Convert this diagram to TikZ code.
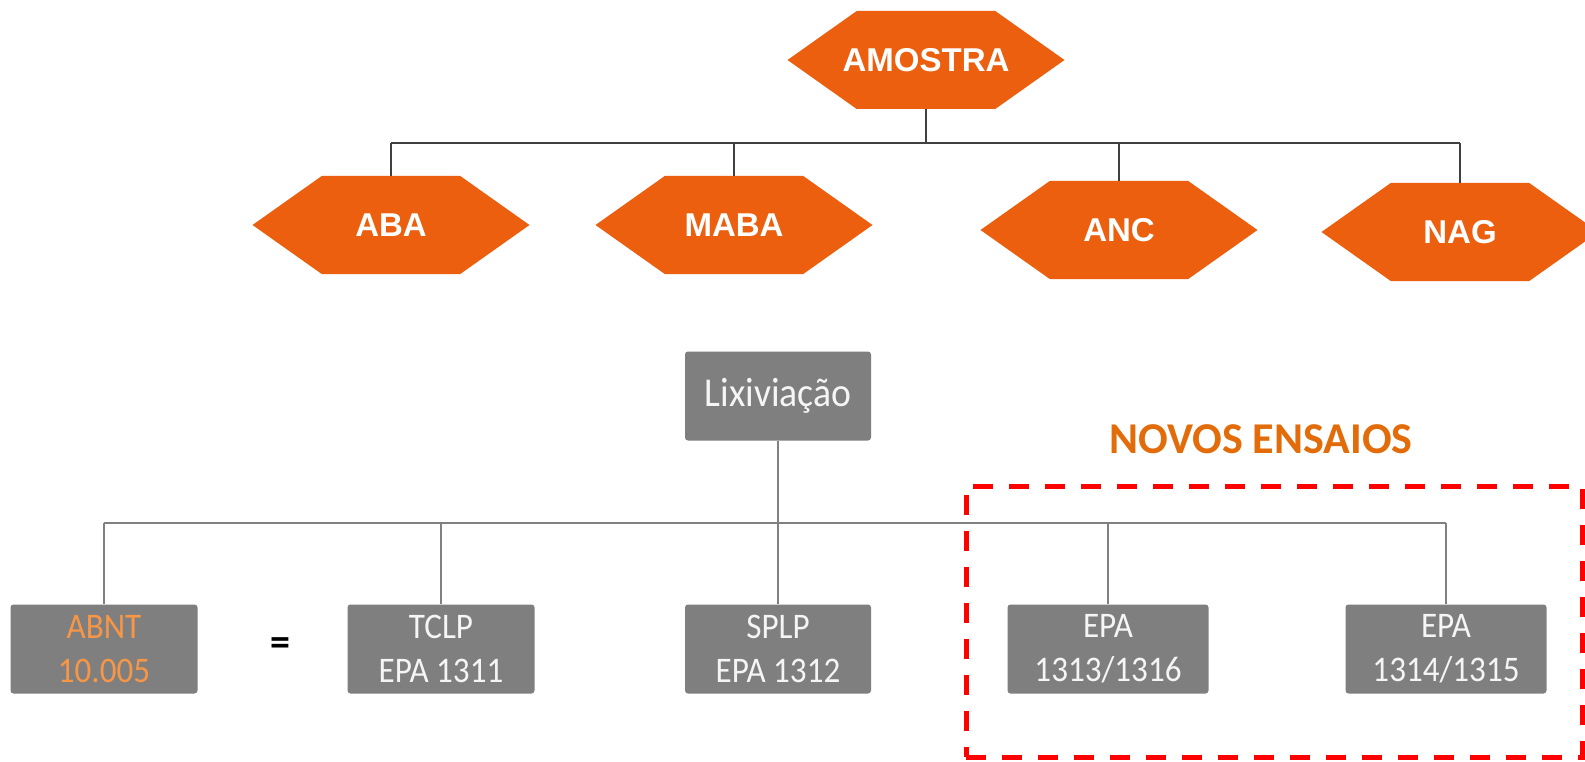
\documentclass[tikz,border=0pt]{standalone}
\usepackage{fontspec}
\setmainfont{Carlito}
\newfontfamily\boxfont{Carlito}[FakeStretch=0.92]
\newfontfamily\hexfont{Liberation Sans}
\usetikzlibrary{calc}

\definecolor{hexorange}{RGB}{236,95,14}
\definecolor{boxgray}{RGB}{127,127,127}
\definecolor{boxtext}{RGB}{245,245,245}
\definecolor{abntorange}{RGB}{247,150,70}
\definecolor{titleorange}{RGB}{227,108,10}
\definecolor{treeline}{RGB}{64,64,64}
\definecolor{busline}{RGB}{128,128,128}

\tikzset{
  hexnode/.style={minimum width=277pt, minimum height=98pt, inner sep=0pt,
    font=\hexfont\bfseries\fontsize{33}{38}\selectfont, text=white,
    path picture={
      \fill[hexorange] (path picture bounding box.west)
        -- ($(path picture bounding box.north west)!0.25!(path picture bounding box.north east)$)
        -- ($(path picture bounding box.north west)!0.75!(path picture bounding box.north east)$)
        -- (path picture bounding box.east)
        -- ($(path picture bounding box.south west)!0.75!(path picture bounding box.south east)$)
        -- ($(path picture bounding box.south west)!0.25!(path picture bounding box.south east)$)
        -- cycle;}},
  graybox/.style={fill=boxgray, rounded corners=3pt, minimum height=89pt,
    inner sep=0pt, text=boxtext, align=center,
    font=\boxfont\fontsize{36}{44}\selectfont},
  treelink/.style={draw=treeline, line width=2pt},
  buslink/.style={draw=busline, line width=1.8pt},
  newframe/.style={draw=red, line width=5pt, dash pattern=on 20pt off 16pt,
    minimum width=616pt, minimum height=271pt, inner sep=0pt},
}

\begin{document}
\begin{tikzpicture}[x=1pt,y=-1pt]
  \useasboundingbox (0,0) rectangle (1585,762);
  \fill[white] (0,0) rectangle (1585,762);
  \clip (0,0) rectangle (1585,762);

  % sample classification tree
  \node[hexnode] (amostra) at (926,60)  {AMOSTRA};
  \node[hexnode] (aba)     at (391,225) {ABA};
  \node[hexnode] (maba)    at (734,225) {MABA};
  \node[hexnode] (anc)     at (1119,230) {ANC};
  \node[hexnode] (nag)     at (1460,232) {NAG};

  \coordinate (tb) at (0,143);
  \draw[treelink] (amostra.south) -- (amostra.south |- tb);
  \draw[treelink] (aba.north |- tb) -- (nag.north |- tb);
  \foreach \n in {aba,maba,anc,nag}
    \draw[treelink] (\n.north |- tb) -- (\n.north);

  % leaching tests
  \node[graybox, minimum width=186pt, font=\boxfont\fontsize{41}{48}\selectfont] (lix) at (778,396) {Lixiviação};
  \node[graybox, minimum width=187pt, text=abntorange] (abnt) at (104,649) {ABNT\\10.005};
  \node[graybox, minimum width=187pt] (tclp) at (441,649) {TCLP\\EPA 1311};
  \node[graybox, minimum width=186pt] (splp) at (778,649) {SPLP\\EPA 1312};
  \node[graybox, minimum width=201pt] (epaa) at (1108,649) {EPA\\1313/1316};
  \node[graybox, minimum width=201pt] (epab) at (1446,649) {EPA\\1314/1315};

  \node[font=\bfseries\fontsize{40}{46}\selectfont] (eq) at (280,647) {=};

  \coordinate (lb) at (0,523);
  \draw[buslink] (lix.south) -- (lix.south |- lb);
  \draw[buslink] (abnt.north |- lb) -- (epab.north |- lb);
  \foreach \n in {abnt,tclp,splp,epaa,epab}
    \draw[buslink] (\n.north |- lb) -- (\n.north);

  % new tests group
  \node[font=\bfseries\fontsize{44}{50}\selectfont, text=titleorange] (novos) at (1261,439) {NOVOS ENSAIOS};
  \node[newframe] (frame) at (1274,621.5) {};
\end{tikzpicture}
\end{document}
